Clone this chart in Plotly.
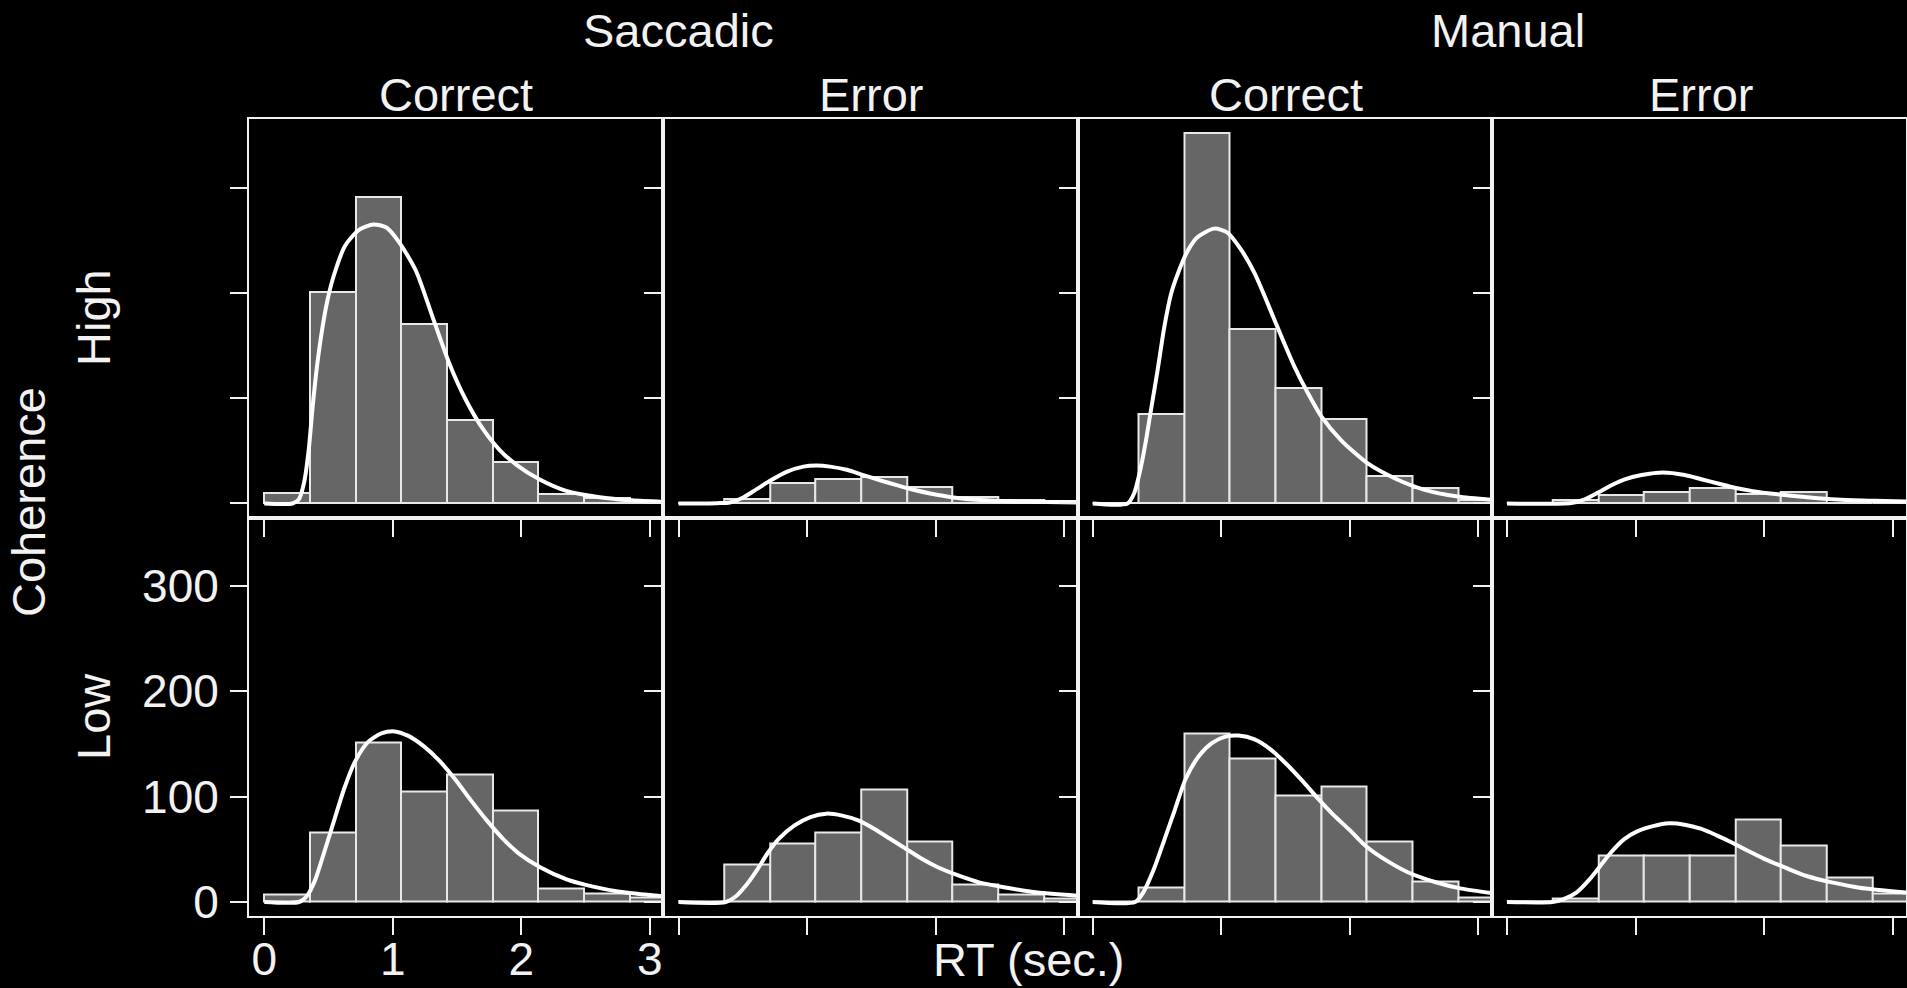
import plotly.graph_objects as go

# ---------------- data ----------------
bin_edges = [0.0, 0.356, 0.711, 1.067, 1.422, 1.778, 2.133, 2.489, 2.844, 3.2]

column_groups = ["Saccadic", "Manual"]
outcomes = ["Correct", "Error"]
coherence_levels = ["High", "Low"]

# histogram counts per bin
sacc_correct_high = [10, 201, 291, 170, 79, 39, 9, 5, 2]
sacc_error_high = [0, 4, 19, 23, 25, 16, 6, 3, 2]
man_correct_high = [0, 85, 352, 166, 110, 80, 26, 15, 3]
man_error_high = [0, 3, 8, 11, 15, 9, 11, 0, 0]

sacc_correct_low = [7, 66, 151, 105, 121, 87, 13, 8, 4]
sacc_error_low = [0, 36, 56, 66, 107, 57, 17, 7, 3]
man_correct_low = [0, 14, 160, 136, 101, 110, 57, 19, 4]
man_error_low = [0, 3, 44, 44, 44, 78, 54, 23, 8]

# fitted density curves
sc_hi_x = [0.0, 0.22, 0.27, 0.31, 0.345, 0.375, 0.41, 0.45, 0.49, 0.54, 0.63, 0.74, 0.85, 0.95,
           1.05, 1.18, 1.31, 1.44, 1.57, 1.70, 1.83, 1.96, 2.14, 2.35, 2.61, 2.86, 3.105]
sc_hi_y = [0, 0, 4, 20, 50, 90, 130, 165, 192, 216, 245, 260, 265, 262,
           248, 221, 177, 133, 98, 71, 51, 37, 23, 12, 6, 3, 1.5]

se_hi_x = [0.0, 0.30, 0.40, 0.504, 0.608, 0.712, 0.841, 0.971, 1.075, 1.179, 1.309, 1.438, 1.568,
           1.698, 1.828, 1.958, 2.14, 2.347, 2.607, 2.866, 3.105]
se_hi_y = [0, 0.3, 1, 5.7, 13.6, 21.5, 30, 35, 36, 35, 32, 27, 22,
           17.4, 13, 9.5, 5.7, 3.2, 1.9, 1.3, 1]

mc_hi_x = [0.0, 0.27, 0.323, 0.375, 0.414, 0.453, 0.505, 0.557, 0.609, 0.661, 0.739, 0.816, 0.946,
           1.05, 1.154, 1.258, 1.361, 1.466, 1.569, 1.673, 1.777, 1.933, 2.14, 2.348, 2.582, 2.84, 3.105]
mc_hi_y = [0, 0, 10, 35, 60, 89, 127, 168, 199, 218, 240, 253, 261,
           257, 241, 219, 190, 159, 130, 105, 83, 60, 38, 24, 13, 6.6, 3.5]

me_hi_x = [0.0, 0.50, 0.605, 0.709, 0.813, 0.916, 1.046, 1.214, 1.383, 1.512, 1.642, 1.771, 1.901,
           2.031, 2.212, 2.42, 2.601, 2.86, 3.105]
me_hi_y = [0, 0.5, 4, 10.4, 17.4, 23, 27, 29.4, 27, 23, 19, 15, 12,
           9.8, 7.3, 5, 3.5, 2.5, 1.9]

sc_lo_x = [0.0, 0.27, 0.334, 0.396, 0.458, 0.54, 0.623, 0.705, 0.808, 0.911, 1.014, 1.117, 1.24,
           1.364, 1.488, 1.611, 1.735, 1.858, 1.982, 2.147, 2.353, 2.559, 2.765, 3.105]
sc_lo_y = [0, 0, 6, 21, 44, 76, 108, 133, 152, 160, 162, 158, 148,
           134, 116, 96, 77, 60, 46, 33, 21.5, 14.6, 9.8, 5.5]

se_lo_x = [0.0, 0.367, 0.449, 0.532, 0.614, 0.697, 0.78, 0.903, 1.027, 1.15, 1.274, 1.398, 1.522,
           1.646, 1.769, 1.893, 2.017, 2.182, 2.346, 2.552, 2.759, 3.105]
se_lo_y = [0, 0, 5.7, 16.8, 31, 47, 60, 72.8, 80.7, 83.9, 82, 77.5, 69.6,
           60, 50.6, 41, 33, 25, 18.4, 13.6, 9.5, 6]

mc_lo_x = [0.0, 0.33, 0.392, 0.475, 0.558, 0.64, 0.723, 0.826, 0.929, 1.032, 1.135, 1.259, 1.383,
           1.507, 1.631, 1.755, 1.879, 2.002, 2.126, 2.291, 2.456, 2.663, 2.869, 3.105]
mc_lo_y = [0, 0, 8.9, 31, 59.5, 88, 117, 138.6, 151, 157, 158, 154.4, 145,
           131, 115, 98, 82, 68, 53, 39, 28, 19, 12.7, 8.5]

me_lo_x = [0.0, 0.353, 0.436, 0.539, 0.642, 0.724, 0.807, 0.91, 1.013, 1.136, 1.26, 1.383, 1.507,
           1.631, 1.754, 1.878, 2.002, 2.166, 2.331, 2.537, 2.743, 3.105]
me_lo_y = [0, 0, 2.5, 8.9, 21.5, 34, 46.8, 59.5, 67, 72, 74.7, 73.4, 69.6,
           63.3, 56.3, 48.4, 41, 32.6, 24.7, 18.4, 13.6, 9]

x_tick_vals = [0, 1, 2, 3]
x_tick_text = ["0", "1", "2", "3"]
y_tick_vals = [0, 100, 200, 300]
y_tick_text = ["0", "100", "200", "300"]

x_title = "RT (sec.)"
y_title = "Coherence"

# panel order: row 0 = High (top), row 1 = Low (bottom); cols = Sacc-Correct, Sacc-Error, Man-Correct, Man-Error
panels = [
    [(sacc_correct_high, sc_hi_x, sc_hi_y), (sacc_error_high, se_hi_x, se_hi_y),
     (man_correct_high, mc_hi_x, mc_hi_y), (man_error_high, me_hi_x, me_hi_y)],
    [(sacc_correct_low, sc_lo_x, sc_lo_y), (sacc_error_low, se_lo_x, se_lo_y),
     (man_correct_low, mc_lo_x, mc_lo_y), (man_error_low, me_lo_x, me_lo_y)],
]

# ---------------- layout constants ----------------
W, H = 1907, 988
L, R, T, B = 249, 1, 119, 72
PW, PH = W - L - R, H - T - B
FONT = "Liberation Sans, Arial, Helvetica, sans-serif"
FG = "#f2f2f2"

bin_centers = [(a + b) / 2 for a, b in zip(bin_edges[:-1], bin_edges[1:])]
bin_widths = [b - a for a, b in zip(bin_edges[:-1], bin_edges[1:])]

fig = go.Figure()
layout_axes = {}
for r in range(2):
    for c in range(4):
        idx = r * 4 + c + 1
        xa = "x" if idx == 1 else f"x{idx}"
        ya = "y" if idx == 1 else f"y{idx}"
        counts, cx, cy = panels[r][c]
        fig.add_trace(go.Bar(
            x=bin_centers, y=counts, width=bin_widths,
            marker=dict(color="#666666", line=dict(color="#e8e8e8", width=2)),
            xaxis=xa, yaxis=ya, showlegend=False, hoverinfo="skip"))
        fig.add_trace(go.Scatter(
            x=cx, y=cy, mode="lines",
            line=dict(color="white", width=4, shape="spline", smoothing=0.7),
            xaxis=xa, yaxis=ya, showlegend=False, hoverinfo="skip"))
        show_labels = (r == 1 and c == 0)
        common = dict(showgrid=False, zeroline=False, showline=True, mirror=True,
                      linecolor=FG, linewidth=2, ticks="outside", ticklen=17,
                      tickwidth=2, tickcolor=FG, automargin=False,
                      tickfont=dict(family=FONT, size=46, color=FG))
        xkey = "xaxis" if idx == 1 else f"xaxis{idx}"
        ykey = "yaxis" if idx == 1 else f"yaxis{idx}"
        layout_axes[xkey] = dict(common, domain=[c / 4, (c + 1) / 4],
                                 range=[-0.119, 3.105], tickvals=x_tick_vals,
                                 ticktext=x_tick_text, showticklabels=show_labels,
                                 ticklabelstandoff=-15, anchor=ya)
        layout_axes[ykey] = dict(common, domain=[0.5 * (1 - r), 0.5 * (2 - r)],
                                 range=[-13.3, 365.1], tickvals=y_tick_vals,
                                 ticktext=y_tick_text, showticklabels=show_labels,
                                 ticklabelstandoff=2, anchor=xa)

fig.update_layout(**layout_axes)


def px(xp):
    return (xp - L) / PW


def py(yp):
    return (H - B - yp) / PH


annos = []
def add_text(text, xp, yp, size=47, angle=0):
    annos.append(dict(text=text, x=px(xp), y=py(yp), xref="paper", yref="paper",
                      xanchor="center", yanchor="middle", showarrow=False,
                      textangle=angle, font=dict(family=FONT, size=size, color=FG)))

add_text(column_groups[0], 678, 30)
add_text(column_groups[1], 1508, 30)
for c, xc in enumerate([456, 871, 1286, 1701]):
    add_text(outcomes[c % 2], xc, 95)
add_text(coherence_levels[0], 93, 318, angle=-90)
add_text(coherence_levels[1], 93, 717, angle=-90)
add_text(y_title, 28, 502, angle=-90)
add_text(x_title, 1029, 959)

fig.update_layout(
    width=W, height=H,
    margin=dict(l=L, r=R, t=T, b=B, pad=0, autoexpand=False),
    paper_bgcolor="black", plot_bgcolor="black",
    bargap=0, barmode="overlay",
    annotations=annos,
    showlegend=False,
)

fig.write_html("out.html")
